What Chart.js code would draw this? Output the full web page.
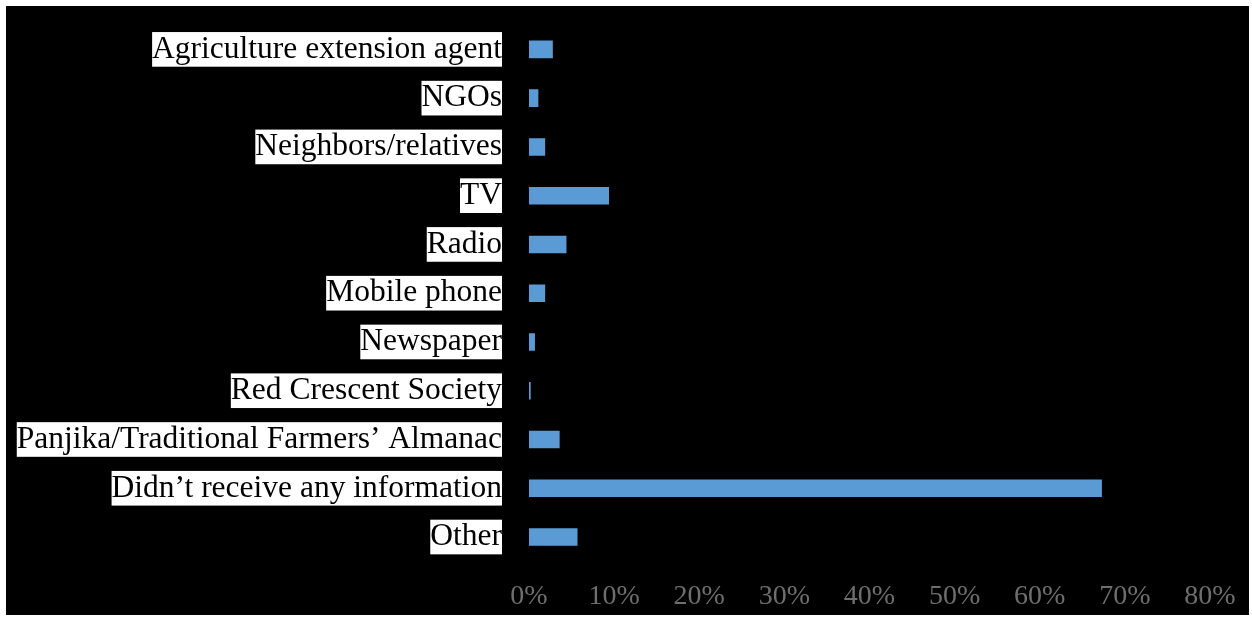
<!DOCTYPE html>
<html>
<head>
<meta charset="utf-8">
<script src="https://cdn.jsdelivr.net/npm/chart.js@4/dist/chart.umd.min.js"></script>
<style>
  html, body { margin: 0; padding: 0; background: #ffffff; width: 1252px; height: 618px; overflow: hidden; }
  #wrap { position: absolute; left: 6px; top: 6px; width: 1243px; height: 609px; background: #000000; }
  canvas { display: block; }
</style>
</head>
<body>
<div id="wrap"><canvas id="c" width="1243" height="609"></canvas></div>
<script>
const categories = [
  "Agriculture extension agent",
  "NGOs",
  "Neighbors/relatives",
  "TV",
  "Radio",
  "Mobile phone",
  "Newspaper",
  "Red Crescent Society",
  "Panjika/Traditional Farmers\u2019 Almanac",
  "Didn\u2019t receive any information",
  "Other"
];
const shares = [2.8, 1.1, 1.9, 9.4, 4.4, 1.9, 0.7, 0.2, 3.6, 67.3, 5.7];
const tickValues = [0, 10, 20, 30, 40, 50, 60, 70, 80];

new Chart(document.getElementById('c'), {
  type: 'bar',
  data: {
    labels: categories,
    datasets: [{
      data: shares,
      backgroundColor: '#5b9bd5',
      borderWidth: 0,
      categoryPercentage: 1,
      barPercentage: 0.36
    }]
  },
  options: {
    indexAxis: 'y',
    responsive: false,
    animation: false,
    layout: { padding: { top: 19, right: 39, bottom: 0, left: 0 } },
    plugins: { legend: { display: false }, tooltip: { enabled: false } },
    scales: {
      x: {
        min: 0,
        max: 80,
        afterBuildTicks: (s) => { s.ticks = tickValues.map(v => ({ value: v })); },
        afterFit: (s) => { s.height = 53.6; },
        grid: { display: false },
        border: { display: false },
        ticks: {
          color: '#6e6e6e',
          padding: 10,
          font: { family: 'Liberation Serif', size: 28, lineHeight: 1.2 },
          callback: (v) => v + '%'
        }
      },
      y: {
        afterFit: (s) => { s.width = 523; s.paddingTop = 0; s.paddingBottom = 0; },
        grid: { display: false, drawTicks: false },
        border: { display: false },
        ticks: {
          color: '#000000',
          padding: 27,
          autoSkip: false,
          showLabelBackdrop: true,
          backdropColor: '#ffffff',
          backdropPadding: 0,
          font: { family: 'Liberation Serif', size: 31.5, lineHeight: 1.1 }
        }
      }
    }
  }
});
</script>
</body>
</html>
